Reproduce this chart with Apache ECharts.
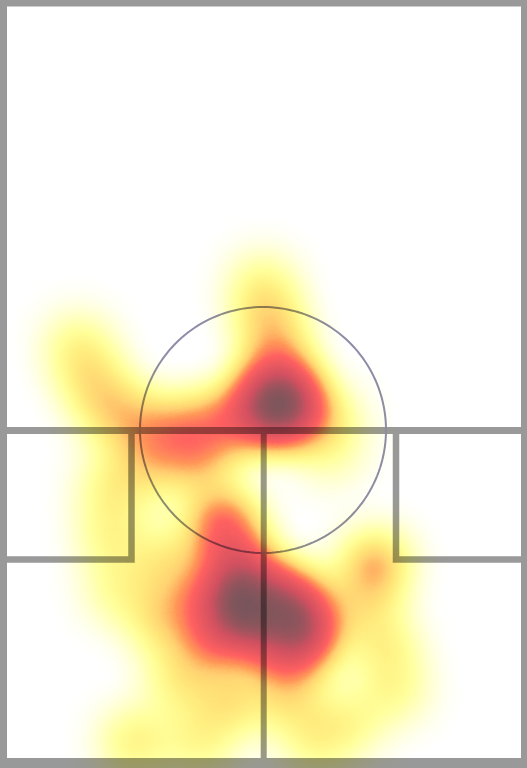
<!DOCTYPE html>
<html>
<head>
<meta charset="utf-8">
<script src="https://cdn.jsdelivr.net/npm/echarts@6/dist/echarts.min.js"></script>
<style>
  html, body { margin: 0; padding: 0; background: #ffffff; }
  #main { width: 527px; height: 768px; }
</style>
</head>
<body>
<div id="main"></div>
<script>
// ---- Court geometry (court units, y measured downward from the front wall) ----
const courtWidth = 527;
const courtHeight = 768;
const shortLineY = 430.5;
const boxBottomY = 559.5;
const leftBoxX = 131.5;
const rightBoxX = 396;
const halfLineX = 263.7;
const circleCenter = [263, 430];
const circleRadius = 123;

// ---- Heat points: x, y, weight ----
const heatX = [262, 268, 275, 280,
               280, 275, 295, 262,
               78, 90, 106, 128, 160, 188, 215, 238,
               330, 330,
               150, 200, 112, 112, 118,
               222, 232, 245, 240, 235, 255, 290, 305, 285, 282, 300, 230, 210, 190,
               375, 362, 385, 395, 350,
               180, 232, 200, 135, 290, 315,
               168, 160];
const heatY = [285, 315, 345, 372,
               400, 412, 408, 405,
               345, 375, 405, 420, 432, 434, 425, 420,
               420, 455,
               468, 465, 485, 535, 590,
               520, 548, 580, 605, 590, 622, 610, 628, 595, 655, 645, 630, 640, 600,
               565, 605, 645, 690, 722,
               680, 700, 742, 742, 700, 742,
               560, 622];
const heatW = [0.3, 0.35, 0.4, 0.45,
               1, 0.8, 0.7, 0.5,
               0.3, 0.33, 0.36, 0.36, 0.45, 0.45, 0.42, 0.45,
               0.3, 0.2,
               0.35, 0.4, 0.35, 0.35, 0.3,
               0.7, 0.65, 0.75, 1, 0.6, 0.8, 0.9, 0.9, 0.6, 0.55, 0.5, 0.5, 0.5, 0.45,
               0.65, 0.35, 0.35, 0.3, 0.3,
               0.4, 0.45, 0.35, 0.4, 0.4, 0.3,
               0.4, 0.4];

const heatColors = ['#ffff00', '#ffff10', '#ffc850', '#ff6060', '#d05060', '#505858'];

// ---- helpers ----
const g = (x, y) => [x, -y]; // court units -> geo coords (y up)

const courtGeo = {
  type: 'FeatureCollection',
  features: [{
    type: 'Feature',
    properties: { name: 'court' },
    geometry: {
      type: 'Polygon',
      coordinates: [[[0, 0], [courtWidth, 0], [courtWidth, -courtHeight], [0, -courtHeight], [0, 0]]]
    }
  }]
};
echarts.registerMap('court', courtGeo);

const lineGrey = '#999999';
function seg(points, width, color) {
  return { coords: points.map(p => g(p[0], p[1])), lineStyle: { width: width, color: color || lineGrey } };
}
const circlePts = [];
for (let i = 0; i <= 180; i++) {
  const a = i / 180 * Math.PI * 2;
  circlePts.push([circleCenter[0] + circleRadius * Math.cos(a), circleCenter[1] + circleRadius * Math.sin(a)]);
}
const courtLines = [
  seg([[3.5, 0], [3.5, courtHeight]], 7),
  seg([[0, 3.2], [courtWidth, 3.2]], 6.5),
  seg([[524, 0], [524, courtHeight]], 6),
  seg([[0, 763], [courtWidth, 763]], 10),
  seg([[0, shortLineY], [courtWidth, shortLineY]], 7),
  seg([[leftBoxX, shortLineY], [leftBoxX, boxBottomY], [0, boxBottomY]], 6.5),
  seg([[rightBoxX, shortLineY], [rightBoxX, boxBottomY], [courtWidth, boxBottomY]], 6.5),
  seg([[halfLineX, shortLineY], [halfLineX, courtHeight]], 6),
  seg(circlePts, 2, '#8e8ca8')
];

const heatData = heatX.map((x, i) => g(x, heatY[i]).concat([heatW[i]]));

const chart = echarts.init(document.getElementById('main'), null, { renderer: 'canvas' });
chart.setOption({
  backgroundColor: '#ffffff',
  animation: false,
  geo: {
    map: 'court',
    roam: false,
    silent: true,
    aspectScale: 1,
    left: 0, top: 0, right: 0, bottom: 0,
    label: { show: false },
    itemStyle: { areaColor: '#ffffff', borderWidth: 0 },
    emphasis: { disabled: true }
  },
  visualMap: {
    type: 'continuous',
    show: false,
    min: 0,
    max: 1,
    seriesIndex: 1,
    inRange: { color: heatColors }
  },
  series: [
    {
      type: 'lines',
      coordinateSystem: 'geo',
      polyline: true,
      silent: true,
      z: 1,
      lineStyle: { cap: 'butt', join: 'miter', opacity: 1 },
      data: courtLines
    },
    {
      type: 'heatmap',
      coordinateSystem: 'geo',
      z: 3,
      silent: true,
      pointSize: 30,
      blurSize: 44,
      minOpacity: 0,
      maxOpacity: 2,
      blendMode: 'multiply',
      data: heatData
    }
  ]
});
</script>
</body>
</html>
